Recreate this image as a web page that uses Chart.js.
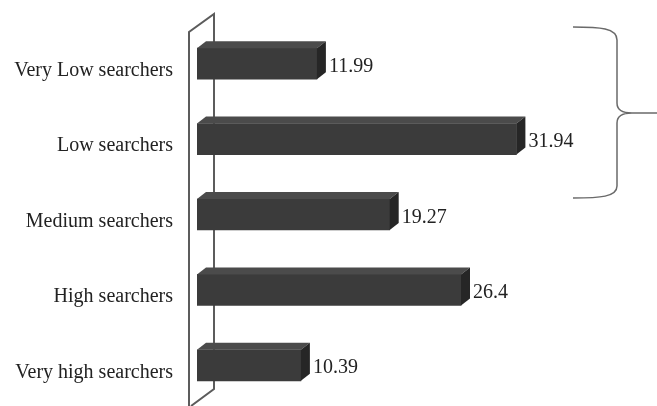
<!DOCTYPE html>
<html>
<head>
<meta charset="utf-8">
<script src="https://cdn.jsdelivr.net/npm/chart.js@4"></script>
<style>
  body { margin: 0; background: #fff; }
  canvas { display: block; }
</style>
</head>
<body>
<canvas id="searchers" width="657" height="406"></canvas>
<script>
  const categories = [
    'Very Low searchers',
    'Low searchers',
    'Medium searchers',
    'High searchers',
    'Very high searchers'
  ];
  const shares = [11.99, 31.94, 19.27, 26.4, 10.39];

  // extrusion of the bars
  const depthX = 9;
  const depthY = 7;

  // back wall, side faces and top faces of the bars, value labels, brace
  const box3d = {
    id: 'box3d',
    beforeDatasetsDraw(chart) {
      const { ctx, chartArea } = chart;
      const front = chartArea.left - 8;
      const back = chartArea.left + 17;
      ctx.save();
      ctx.strokeStyle = '#5c5c5c';
      ctx.lineWidth = 2;
      ctx.beginPath();
      ctx.moveTo(front, 406);
      ctx.lineTo(front, 32);
      ctx.lineTo(back, 14);
      ctx.lineTo(back, 389);
      ctx.lineTo(front + 2, 406);
      ctx.stroke();
      ctx.restore();
    },
    afterDatasetsDraw(chart) {
      const { ctx } = chart;
      const meta = chart.getDatasetMeta(0);
      ctx.save();
      meta.data.forEach((bar, i) => {
        const { x, y, base, height } = bar.getProps(['x', 'y', 'base', 'height'], true);
        const top = y - height / 2;
        const bottom = y + height / 2;

        ctx.fillStyle = '#4b4b4b';
        ctx.beginPath();
        ctx.moveTo(base, top);
        ctx.lineTo(base + depthX, top - depthY);
        ctx.lineTo(x + depthX, top - depthY);
        ctx.lineTo(x, top);
        ctx.closePath();
        ctx.fill();

        ctx.fillStyle = '#262626';
        ctx.beginPath();
        ctx.moveTo(x, top);
        ctx.lineTo(x + depthX, top - depthY);
        ctx.lineTo(x + depthX, bottom - depthY);
        ctx.lineTo(x, bottom);
        ctx.closePath();
        ctx.fill();

        ctx.fillStyle = '#222';
        ctx.font = '20px "Liberation Serif"';
        ctx.textAlign = 'left';
        ctx.textBaseline = 'alphabetic';
        ctx.fillText(String(shares[i]), x + depthX + 3, y + 8);
      });

      // brace grouping the two low groups
      ctx.strokeStyle = '#6a6a6a';
      ctx.lineWidth = 1.5;
      ctx.beginPath();
      ctx.moveTo(573, 27);
      ctx.bezierCurveTo(600, 27, 617, 28, 617, 40);
      ctx.lineTo(617, 103);
      ctx.bezierCurveTo(617, 110, 622, 113, 632, 113);
      ctx.lineTo(657, 113);
      ctx.moveTo(632, 113);
      ctx.bezierCurveTo(622, 113, 617, 116, 617, 123);
      ctx.lineTo(617, 186);
      ctx.bezierCurveTo(617, 197, 600, 198, 573, 198);
      ctx.stroke();
      ctx.restore();
    }
  };

  const data = {
    labels: categories,
    datasets: [{
      data: shares,
      backgroundColor: '#3b3b3b',
      borderWidth: 0,
      barThickness: 31
    }]
  };

  const options = {
    indexAxis: 'y',
    responsive: false,
    animation: false,
    layout: {
      padding: { top: 26, bottom: 3, left: 0, right: 0 }
    },
    scales: {
      x: {
        display: false,
        min: 0,
        max: 46
      },
      y: {
        afterFit(scale) {
          scale.width = 197;
          scale.paddingTop = 0;
          scale.paddingBottom = 0;
        },
        grid: { display: false, drawTicks: false },
        border: { display: false },
        ticks: {
          color: '#222',
          padding: 24,
          labelOffset: 7,
          font: { family: '"Liberation Serif"', size: 20 }
        }
      }
    },
    plugins: {
      legend: { display: false },
      tooltip: { enabled: false }
    }
  };

  const config = {
    type: 'bar',
    data: data,
    options: options,
    plugins: [box3d]
  };

  new Chart(document.getElementById('searchers'), config);
</script>
</body>
</html>
